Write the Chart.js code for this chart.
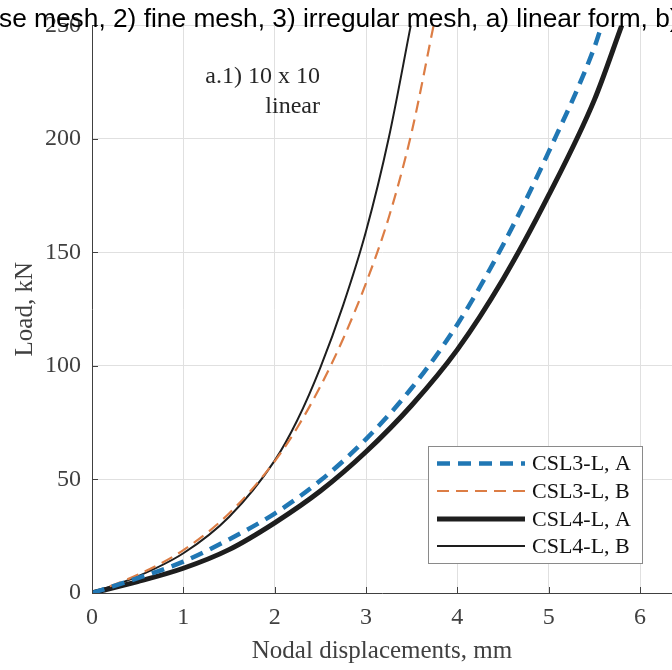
<!DOCTYPE html>
<html lang="en">
<head>
  <meta charset="UTF-8">
  <title>Load - nodal displacement, a.1) 10 x 10 linear</title>
  <script src="https://cdn.jsdelivr.net/npm/chart.js"></script>
  <style>
    body {
      margin: 0;
      background: white;
      overflow: hidden;
    }
    canvas {
      display: block;
    }
  </style>
</head>
<body>

<canvas id="loadChart" width="672" height="670"></canvas>

<script>
  // values
  const seriesNames = ["CSL3-L, A", "CSL3-L, B", "CSL4-L, A", "CSL4-L, B"];

  const csl3aDisp = [0, 0.5, 1, 1.5, 2, 2.5, 3, 3.5, 4, 4.5, 5, 5.5, 5.58];
  const csl3aLoad = [0, 6.5, 13.8, 23.6, 35, 49.5, 67.8, 90.3, 118.3, 153.3, 194.3, 240.3, 250];

  const csl3bDisp = [0, 0.5, 1, 1.5, 2, 2.25, 2.5, 2.75, 3, 3.25, 3.5, 3.74];
  const csl3bLoad = [0, 8, 18.9, 35, 58, 73, 91, 112, 136.5, 165.5, 203, 250];

  const csl4aDisp = [0, 0.5, 1, 1.5, 2, 2.5, 3, 3.5, 4, 4.5, 5, 5.5, 5.8];
  const csl4aLoad = [0, 5, 10.9, 19.1, 30.9, 44.9, 62.2, 82.7, 107.2, 138.2, 175.2, 217.2, 250];

  const csl4bDisp = [0, 0.5, 1, 1.5, 2, 2.25, 2.5, 2.75, 3, 3.25, 3.49];
  const csl4bLoad = [0, 7.3, 17.5, 33.5, 58.3, 76.3, 99.3, 126.8, 159.3, 200.6, 250];

  const xTicks = [0, 1, 2, 3, 4, 5, 6];
  const yTicks = [0, 50, 100, 150, 200, 250];

  const titleText = "1) coarse mesh, 2) fine mesh, 3) irregular mesh, a) linear form, b) quadratic form";
  const noteLines = ["a.1) 10 x 10", "linear"];

  function toPoints(xs, ys) {
    return xs.map((x, i) => ({ x: x, y: ys[i] }));
  }

  const serif = '"Liberation Serif", "Times New Roman", serif';
  const axisColor = "#404040";

  // ticks inside, annotation, legend box and title
  const overlay = {
    id: "overlay",
    afterDraw(chart) {
      const c = chart.ctx;
      const area = chart.chartArea;
      const xs = chart.scales.x;
      const ys = chart.scales.y;

      c.save();
      c.strokeStyle = axisColor;
      c.lineWidth = 1;
      c.beginPath();
      xTicks.forEach(v => {
        const px = Math.round(xs.getPixelForValue(v)) + 0.5;
        c.moveTo(px, area.bottom);
        c.lineTo(px, area.bottom - 6);
      });
      yTicks.forEach(v => {
        const py = Math.round(ys.getPixelForValue(v)) + 0.5;
        c.moveTo(area.left, py);
        c.lineTo(area.left + 6, py);
      });
      c.stroke();

      // note
      c.fillStyle = "#262626";
      c.font = "24px " + serif;
      c.textAlign = "right";
      c.textBaseline = "alphabetic";
      c.fillText(noteLines[0], 320, 83);
      c.fillText(noteLines[1], 320, 113);

      // legend
      const lx = 428.5, ly = 446.5, lw = 214, lh = 117;
      c.fillStyle = "white";
      c.fillRect(lx, ly, lw, lh);
      c.strokeStyle = "#8a8a8a";
      c.lineWidth = 1;
      c.strokeRect(lx, ly, lw, lh);
      const rows = [463.5, 491, 519, 546];
      chart.data.datasets.forEach((ds, i) => {
        c.beginPath();
        c.strokeStyle = ds.borderColor;
        c.lineWidth = ds.borderWidth;
        c.setLineDash(ds.borderDash || []);
        c.moveTo(437, rows[i]);
        c.lineTo(525, rows[i]);
        c.stroke();
        c.setLineDash([]);
        c.fillStyle = "#111";
        c.font = "22px " + serif;
        c.textAlign = "left";
        c.textBaseline = "middle";
        c.fillText(ds.label, 532, rows[i] + 1);
      });

      // title (wider than the figure, cut at both sides)
      c.fillStyle = "black";
      c.font = '26.3px "Liberation Sans", Arial, sans-serif';
      c.textAlign = "left";
      c.textBaseline = "alphabetic";
      const pre = c.measureText("1) coar").width;
      c.fillText(titleText, -1 - pre, 27);
      c.restore();
    }
  };

  const ctx = document.getElementById("loadChart").getContext("2d");
  const loadChart = new Chart(ctx, {
    type: "line",
    data: {
      datasets: [
        {
          label: seriesNames[0],
          data: toPoints(csl3aDisp, csl3aLoad),
          borderColor: "#2077b4",
          borderWidth: 4.5,
          borderDash: [13, 8]
        },
        {
          label: seriesNames[1],
          data: toPoints(csl3bDisp, csl3bLoad),
          borderColor: "#dc7d45",
          borderWidth: 2.2,
          borderDash: [12, 7]
        },
        {
          label: seriesNames[2],
          data: toPoints(csl4aDisp, csl4aLoad),
          borderColor: "#1e1e1e",
          borderWidth: 5
        },
        {
          label: seriesNames[3],
          data: toPoints(csl4bDisp, csl4bLoad),
          borderColor: "#1e1e1e",
          borderWidth: 2
        }
      ]
    },
    options: {
      responsive: false,
      animation: false,
      layout: { padding: { top: 22, right: 0, bottom: 0, left: 0 } },
      elements: {
        point: { radius: 0 },
        line: { cubicInterpolationMode: "monotone", fill: false }
      },
      plugins: {
        legend: { display: false },
        title: { display: false },
        tooltip: { enabled: false }
      },
      scales: {
        x: {
          type: "linear",
          min: 0,
          max: 6.35,
          afterFit(scale) { scale.height = 77; },
          afterBuildTicks(scale) { scale.ticks = xTicks.map(v => ({ value: v })); },
          ticks: {
            color: axisColor,
            font: { family: serif, size: 24 },
            padding: 10
          },
          grid: { color: "#e0e0e0", drawTicks: false },
          border: { color: axisColor, width: 1 },
          title: {
            display: true,
            text: "Nodal displacements, mm",
            color: axisColor,
            font: { family: serif, size: 25 },
            padding: { top: 0, bottom: 4 }
          }
        },
        y: {
          type: "linear",
          min: 0,
          max: 250,
          afterFit(scale) { scale.width = 92; },
          afterBuildTicks(scale) { scale.ticks = yTicks.map(v => ({ value: v })); },
          ticks: {
            color: axisColor,
            font: { family: serif, size: 24 },
            padding: 11
          },
          grid: { color: "#e0e0e0", drawTicks: false },
          border: { color: axisColor, width: 1 },
          title: {
            display: true,
            text: "Load, kN",
            color: axisColor,
            font: { family: serif, size: 25 },
            padding: { top: 10, bottom: 0 }
          }
        }
      }
    },
    plugins: [overlay]
  });
</script>

</body>
</html>
